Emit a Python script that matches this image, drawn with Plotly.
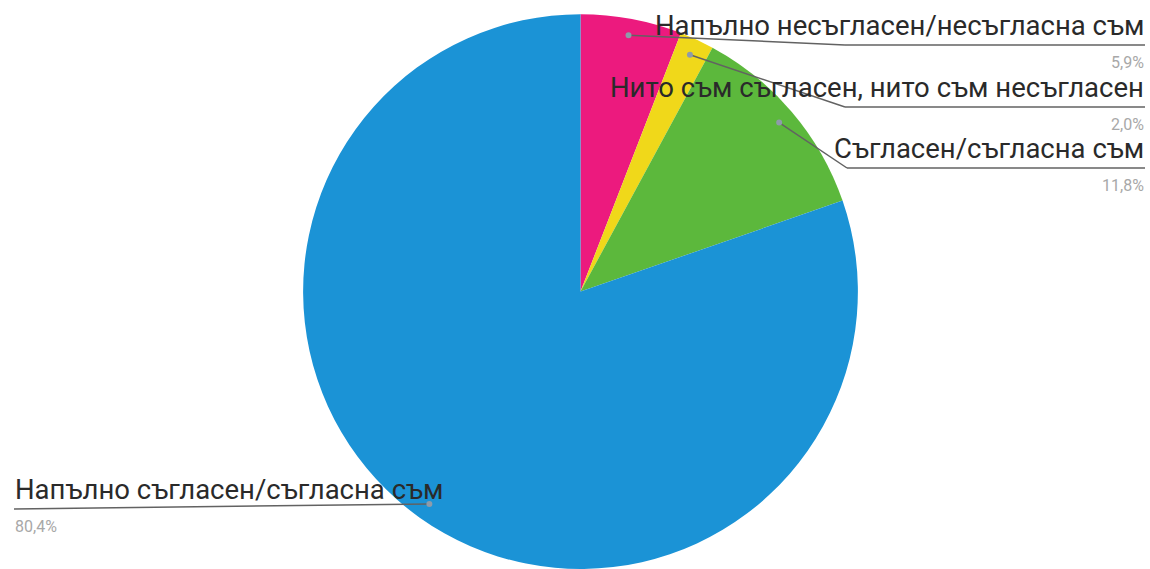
import math
import plotly.graph_objects as go

# Survey answers and their shares (%)
labels = [
    "Напълно несъгласен/несъгласна съм",
    "Нито съм съгласен, нито съм несъгласен",
    "Съгласен/съгласна съм",
    "Напълно съгласен/съгласна съм",
]
values = [5.9, 2.0, 11.8, 80.4]
value_text = ["5,9%", "2,0%", "11,8%", "80,4%"]
colors = ["#EC1A7E", "#F0D81A", "#5CB83C", "#1B93D6"]

W, H = 1150, 569
CX, CY = 580.5, 291.5          # pie centre, px
DOM_Y = (0.0, 0.975)
R = (DOM_Y[1] - DOM_Y[0]) * H / 2

def px(x):
    return x / W

def py(y):
    return 1 - y / H

fig = go.Figure(go.Pie(
    labels=labels,
    values=values,
    sort=False,
    direction="clockwise",
    rotation=0,
    marker=dict(colors=colors, line=dict(width=0)),
    textinfo="none",
    hoverinfo="label+percent",
    showlegend=False,
    domain=dict(x=[px(CX) - 0.4, px(CX) + 0.4], y=list(DOM_Y)),
))

# label layout: (underline y, underline start x, underline end x, side)
label_rows = [
    (45, 845, 1145, "right"),
    (107, 845, 1145, "right"),
    (168, 847, 1145, "right"),
    (509, 14, None, "left"),
]

shapes = []
annotations = []
total = sum(values)
cum = 0.0
for lab, val, vt, (uy, ux0, ux1, side) in zip(labels, values, value_text, label_rows):
    mid = (cum + val / 2) / total * 2 * math.pi
    cum += val
    dx = CX + 0.94 * R * math.sin(mid)
    dy = CY - 0.94 * R * math.cos(mid)
    line_style = dict(color="#626262", width=1.5)
    if side == "right":
        shapes.append(dict(type="line", xref="paper", yref="paper",
                           x0=px(dx), y0=py(dy), x1=px(ux0), y1=py(uy), line=line_style))
        shapes.append(dict(type="line", xref="paper", yref="paper",
                           x0=px(ux0), y0=py(uy), x1=px(ux1), y1=py(uy), line=line_style))
        tx, anchor = ux1, "right"
    else:
        shapes.append(dict(type="line", xref="paper", yref="paper",
                           x0=px(ux0), y0=py(uy), x1=px(dx), y1=py(dy), line=line_style))
        tx, anchor = ux0, "left"
    shapes.append(dict(type="circle", xref="paper", yref="paper",
                       x0=px(dx - 3), x1=px(dx + 3), y0=py(dy - 3), y1=py(dy + 3),
                       fillcolor="#8E9BAA", line=dict(width=0)))
    annotations.append(dict(text=lab, xref="paper", yref="paper",
                            x=px(tx), y=py(uy - 2), xanchor=anchor, yanchor="bottom",
                            showarrow=False, borderpad=0,
                            font=dict(family="Roboto", size=27.5, color="#2A2A2A")))
    annotations.append(dict(text=vt, xref="paper", yref="paper",
                            x=px(tx), y=py(uy + 7), xanchor=anchor, yanchor="top",
                            showarrow=False, borderpad=0,
                            font=dict(family="Roboto", size=16, color="#A8A8A8")))

fig.update_layout(
    width=W, height=H,
    margin=dict(l=0, r=0, t=0, b=0),
    paper_bgcolor="white",
    plot_bgcolor="white",
    shapes=shapes,
    annotations=annotations,
)

fig.write_html("out.html")
